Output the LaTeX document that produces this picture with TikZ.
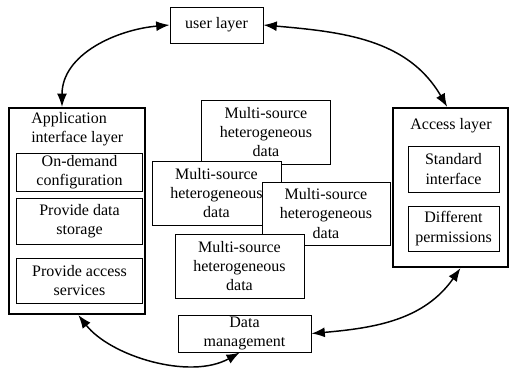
\documentclass[tikz,border=0pt]{standalone}
\usepackage{fontspec}
\setmainfont{Liberation Serif}
\usepackage{tikz}
\usetikzlibrary{arrows.meta, positioning, calc}

\begin{document}
\begin{tikzpicture}[
      x=0.75pt, y=-0.75pt,
      every node/.style={font=\fontsize{12}{14.5}\selectfont},
      box/.style={draw=black, line width=0.75pt, fill=white, align=center, inner sep=0pt},
      layer/.style={draw=black, line width=1.6pt, fill=white, inner sep=0pt},
      data_box/.style={box, minimum width=96.75pt, minimum height=48pt},
      arrow/.style={{Latex[length=10pt, width=7.5pt]}-{Latex[length=10pt, width=7.5pt]}, line width=1.1pt, draw=black}
    ]

      % page frame
      \useasboundingbox (0,0) rectangle (509,368);

      % User layer on top
      \node[box, minimum width=69.75pt, minimum height=27pt] (user) at (216.5,25) {user layer};

      % Application interface layer with its three services
      \node[layer, minimum width=102pt, minimum height=154.5pt] (app) at (77,211) {};
      \node[anchor=north west, align=left, inner sep=0pt] (app_title) at (31,112) {Application\\interface layer};
      \node[box, minimum width=94.5pt, minimum height=28.5pt] (on_demand) at (79.5,172) {On-demand\\configuration};
      \node[box, minimum width=94.5pt, minimum height=34.5pt] (storage) at (79.5,221) {Provide data\\storage};
      \node[box, minimum width=94.5pt, minimum height=33.75pt] (services) at (79.5,280.5) {Provide access\\services};

      % Access layer with its two parts
      \node[layer, minimum width=86.25pt, minimum height=119.25pt] (access) at (450.5,187.5) {};
      \node (access_title) at (451,126) {Access layer};
      \node[box, minimum width=68.25pt, minimum height=34.5pt] (standard) at (453.5,169) {Standard\\interface};
      \node[box, minimum width=68.25pt, minimum height=33.75pt] (permissions) at (453.5,228.5) {Different\\permissions};

      % Stack of data sources, later ones drawn over earlier ones
      \node[data_box] (data_a) at (266,132) {Multi-source\\heterogeneous\\data};
      \node[data_box] (data_b) at (216.5,193) {Multi-source\\heterogeneous\\data};
      \node[data_box, minimum width=96pt, minimum height=47.25pt] (data_c) at (326,213.5) {Multi-source\\heterogeneous\\data};
      \node[data_box] (data_d) at (239.5,266) {Multi-source\\heterogeneous\\data};

      % Data management at the bottom
      \node[box, minimum width=99.75pt, minimum height=27.75pt] (manage) at (244.5,333.5) {Data\\management};

      % Curved links round the ring
      \draw[arrow] (user.west) to[out=185, in=90] ([xshift=-11.25pt]app.north);
      \draw[arrow] (user.east) to[out=-5, in=120] ([xshift=-2.5pt]access.north);
      \draw[arrow] ([xshift=1pt]app.south) .. controls +(32,41) and +(-50,28) .. ([xshift=-3.5pt]manage.south);
      \draw[arrow] (manage.east) to[out=5, in=-125] ([xshift=7.5pt]access.south);

    \end{tikzpicture}
\end{document}
